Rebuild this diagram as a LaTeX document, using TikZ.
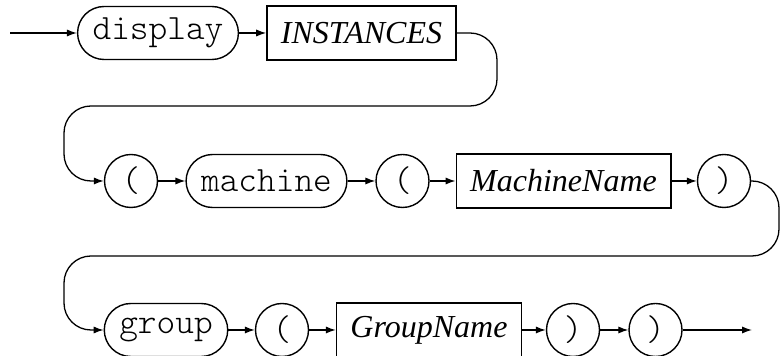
\documentclass[tikz,border=0pt]{standalone}
\usepackage{fontspec}
\setmainfont{Liberation Serif}
\setmonofont{Latin Modern Mono Light}
\usetikzlibrary{arrows.meta, positioning}
\tikzset{
    synterm/.style={draw, rectangle, rounded corners=13.25pt, minimum height=26.5pt, inner xsep=7.5pt, line width=0.7pt, font=\ttfamily\fontsize{17.8}{20}\selectfont},
    synpunct/.style={draw, circle, minimum size=26.5pt, inner sep=0pt, line width=0.7pt, font=\ttfamily\fontsize{17.8}{20}\selectfont},
    synnonterm/.style={draw, rectangle, minimum height=27pt, inner xsep=7pt, line width=0.7pt, font=\itshape\fontsize{16}{19}\selectfont},
    synarrow/.style={-{Latex[length=5pt, width=3.6pt]}, line width=0.65pt},
    synreturn/.style={synarrow, rounded corners=13.5pt}
}

\begin{document}
\begin{tikzpicture}[x=0.5pt, y=-0.5pt]
  \useasboundingbox (0,0) rectangle (781,356);
  % row 1
  \coordinate (start) at (10,33);
  \node[synterm] (display) at (158,33) {display};
  \node[synnonterm] (instances) at (361.5,33) {INSTANCES};
  % row 2
  \node[synpunct] (lpA) at (131,181) {(};
  \node[synterm] (machine) at (266.5,181) {machine};
  \node[synpunct] (lpB) at (402.5,181) {(};
  \node[synnonterm] (machname) at (563.5,181) {MachineName};
  \node[synpunct] (rpA) at (724,181) {)};
  % row 3
  \node[synterm] (group) at (166,330) {group};
  \node[synpunct] (lpC) at (282,330) {(};
  \node[synnonterm] (grpname) at (429,330) {GroupName};
  \node[synpunct] (rpB) at (573,330) {)};
  \node[synpunct] (rpC) at (655.5,330) {)};
  \coordinate (finish) at (752,330);
  % turns between rows
  \coordinate (retA) at (497,106);
  \coordinate (retAl) at (64,106);
  \coordinate (retB) at (779,256);
  \coordinate (retBl) at (64,256);

  \draw[synarrow] (start) -- (display);
  \draw[synarrow] (display) -- (instances);
  \draw[synreturn] (instances.east) -| (retA) -- (retAl) |- (lpA.west);
  \draw[synarrow] (lpA) -- (machine);
  \draw[synarrow] (machine) -- (lpB);
  \draw[synarrow] (lpB) -- (machname);
  \draw[synarrow] (machname) -- (rpA);
  \draw[synreturn] (rpA.east) -| (retB) -- (retBl) |- (group.west);
  \draw[synarrow] (group) -- (lpC);
  \draw[synarrow] (lpC) -- (grpname);
  \draw[synarrow] (grpname) -- (rpB);
  \draw[synarrow] (rpB) -- (rpC);
  \draw[synarrow] (rpC) -- (finish);
\end{tikzpicture}
\end{document}
